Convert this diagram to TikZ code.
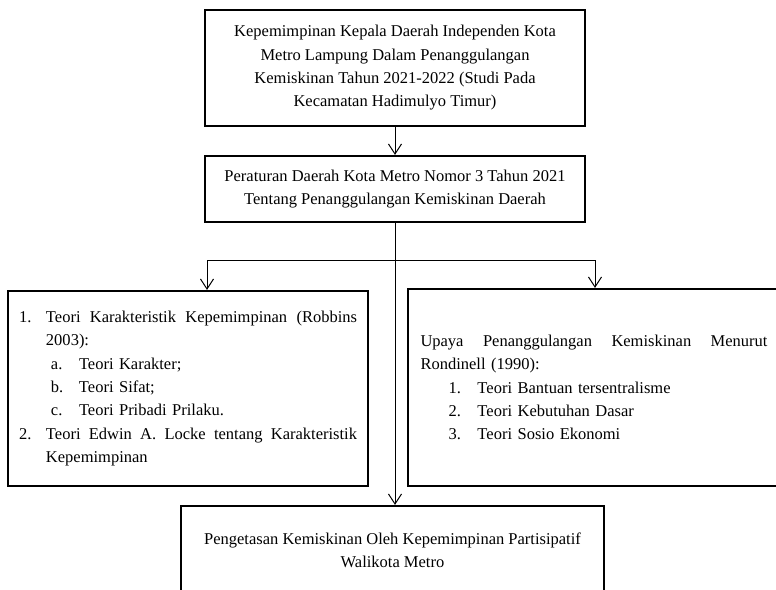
\documentclass[tikz,border=0pt]{standalone}
\usepackage{fontspec}
\setmainfont{Liberation Serif}
\usetikzlibrary{arrows.meta}
\tikzset{
  kotak/.style={draw, line width=2.2pt, inner sep=0pt, align=center,
    font=\fontsize{16.5}{23.3}\selectfont},
  panah/.style={-{Straight Barb[length=10pt,width=13pt]}, line width=1pt},
}
\begin{document}
\begin{tikzpicture}[x=1pt,y=-1pt]
      \useasboundingbox (0,0) rectangle (776,589);
      \node[kotak, minimum width=380pt, minimum height=116pt] (judul) at (395,68)
        {Kepemimpinan Kepala Daerah Independen Kota\\
         Metro Lampung Dalam Penanggulangan\\
         Kemiskinan Tahun 2021-2022 (Studi Pada\\
         Kecamatan Hadimulyo Timur)};
      \node[kotak, minimum width=380pt, minimum height=66pt] (perda) at (395,189)
        {Peraturan Daerah Kota Metro Nomor 3 Tahun 2021\\
         Tentang Penanggulangan Kemiskinan Daerah};
      \node[kotak, align=left, text width=338pt, minimum width=360pt,
        minimum height=195pt] (teori) at (188,388.5)
        {\makebox[27pt][l]{1.}\makebox[311pt]{Teori\hfill Karakteristik\hfill Kepemimpinan\hfill (Robbins}\\
         \hspace*{27pt}2003):\\
         \hspace*{32pt}\makebox[28pt][l]{a.}Teori Karakter;\\
         \hspace*{32pt}\makebox[28pt][l]{b.}Teori Sifat;\\
         \hspace*{32pt}\makebox[28pt][l]{c.}Teori Pribadi Prilaku.\\
         \makebox[27pt][l]{2.}\makebox[311pt]{Teori\hfill Edwin\hfill A.\hfill Locke\hfill tentang\hfill Karakteristik}\\
         \hspace*{27pt}Kepemimpinan};
      \node[kotak, align=left, text width=347pt, minimum width=372pt,
        minimum height=197pt] (upaya) at (594,387.5)
        {\makebox[347pt]{Upaya\hfill Penanggulangan\hfill Kemiskinan\hfill Menurut}\\
         Rondinell (1990):\\
         \hspace*{28pt}\makebox[29pt][l]{1.}Teori Bantuan tersentralisme\\
         \hspace*{28pt}\makebox[29pt][l]{2.}Teori Kebutuhan Dasar\\
         \hspace*{28pt}\makebox[29pt][l]{3.}Teori Sosio Ekonomi};
      \node[kotak, minimum width=423pt, minimum height=88pt] (hasil) at (392.5,550)
        {Pengetasan Kemiskinan Oleh Kepemimpinan Partisipatif\\
         Walikota Metro};
      \coordinate (cabang) at (395,260);
      \coordinate (kiri) at (207,260);
      \coordinate (kanan) at (595,260);
      \begin{scope}[panah]
        \draw (judul) -- (perda);
        \draw (perda.south -| cabang) -- (hasil.north -| cabang);
        \draw (kanan) -- (kiri) -- (kiri |- teori.north);
        \draw (kanan) -- (kanan |- upaya.north);
      \end{scope}
    \end{tikzpicture}
\end{document}
